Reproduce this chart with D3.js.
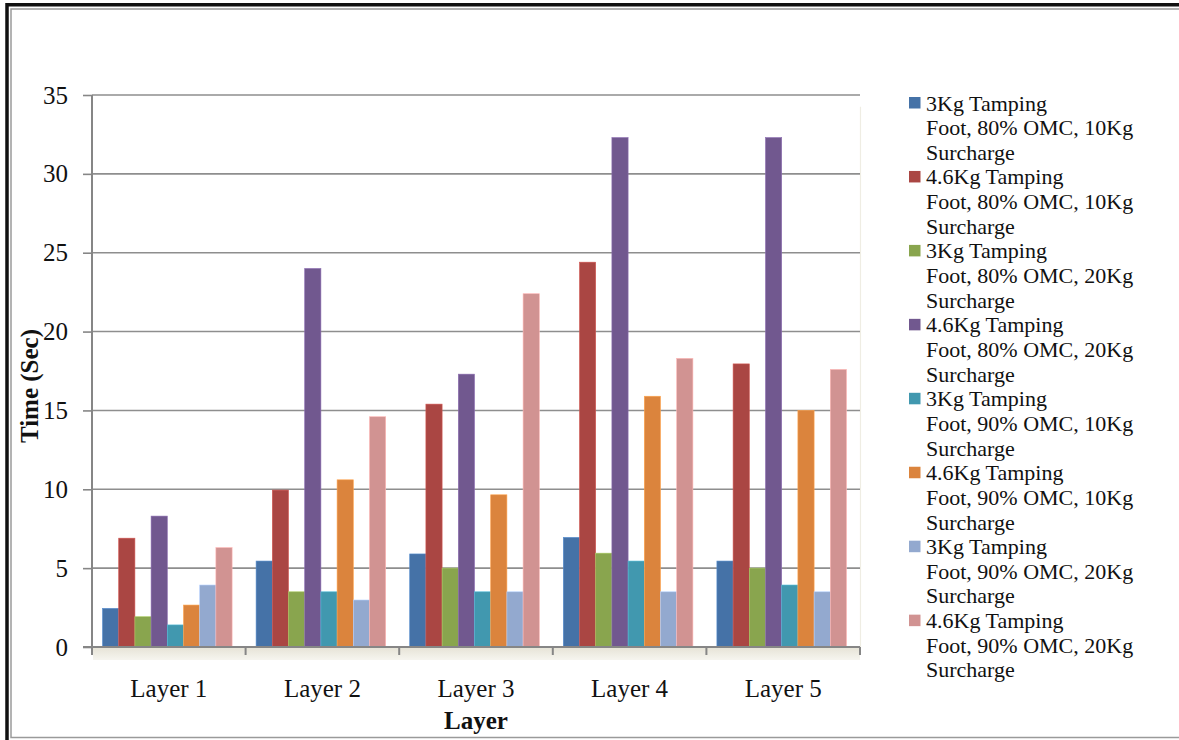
<!DOCTYPE html>
<html>
<head>
<meta charset="utf-8">
<script src="https://cdn.jsdelivr.net/npm/d3@7"></script>
<style>
  html, body { margin: 0; padding: 0; background: #fff; }
  svg { display: block; font-family: "Liberation Serif", "Times New Roman", serif; }
</style>
</head>
<body>
<svg id="chart" width="1179" height="740"></svg>
<script>
// Categories on the x axis
const layers = ["Layer 1", "Layer 2", "Layer 3", "Layer 4", "Layer 5"];

// Series names (test configurations)
const seriesNames = [
  "3Kg Tamping Foot, 80% OMC, 10Kg Surcharge",
  "4.6Kg Tamping Foot, 80% OMC, 10Kg Surcharge",
  "3Kg Tamping Foot, 80% OMC, 20Kg Surcharge",
  "4.6Kg Tamping Foot, 80% OMC, 20Kg Surcharge",
  "3Kg Tamping Foot, 90% OMC, 10Kg Surcharge",
  "4.6Kg Tamping Foot, 90% OMC, 10Kg Surcharge",
  "3Kg Tamping Foot, 90% OMC, 20Kg Surcharge",
  "4.6Kg Tamping Foot, 90% OMC, 20Kg Surcharge"
];

// Time (Sec) per layer, one array per series
const s3kg80_10  = [2.45, 5.45, 5.9, 6.95, 5.45];
const s46kg80_10 = [6.9, 9.95, 15.4, 24.4, 17.95];
const s3kg80_20  = [1.92, 3.5, 5.0, 5.95, 5.0];
const s46kg80_20 = [8.3, 24.0, 17.3, 32.3, 32.3];
const s3kg90_10  = [1.4, 3.5, 3.5, 5.45, 3.93];
const s46kg90_10 = [2.66, 10.6, 9.65, 15.9, 15.0];
const s3kg90_20  = [3.93, 2.98, 3.5, 3.5, 3.5];
const s46kg90_20 = [6.3, 14.6, 22.4, 18.3, 17.6];

const seriesValues = [s3kg80_10, s46kg80_10, s3kg80_20, s46kg80_20,
                      s3kg90_10, s46kg90_10, s3kg90_20, s46kg90_20];

// Y axis ticks
const yTicks = [0, 5, 10, 15, 20, 25, 30, 35];

const colors = ["#4572A7", "#AA4643", "#89A54E", "#71588F",
                "#4198AF", "#DB843D", "#93A9CF", "#D19392"];

const svg = d3.select("#chart");

// Plot area
const plotL = 92, plotR = 860, plotT = 95, plotB = 647;

const y = d3.scaleLinear().domain([0, 35]).range([plotB, plotT]);
const x0 = d3.scaleBand().domain(layers).range([plotL, plotR]).padding(0);
const x1 = d3.scaleBand().domain(d3.range(seriesNames.length))
  .range([10.5, 10.5 + 16.2 * seriesNames.length]).padding(0);

// Outer frame
svg.append("path")
  .attr("d", "M7,740 V4.8 H1179")
  .attr("fill", "none").attr("stroke", "#111").attr("stroke-width", 3.5);
svg.append("path")
  .attr("d", "M1179,9 H11 V737.5 H1179")
  .attr("fill", "none").attr("stroke", "#9a9a9a").attr("stroke-width", 1.5);

// Floor below the plot
const defs = svg.append("defs");
const fg = defs.append("linearGradient").attr("id", "floor")
  .attr("x1", 0).attr("y1", 0).attr("x2", 0).attr("y2", 1);
fg.append("stop").attr("offset", 0).attr("stop-color", "#e6e3d6");
fg.append("stop").attr("offset", 1).attr("stop-color", "#f6f5ef");
svg.append("rect")
  .attr("x", plotL + 1).attr("y", plotB).attr("width", plotR - plotL - 1).attr("height", 13)
  .attr("fill", "url(#floor)");

// Back wall right edge
svg.append("line")
  .attr("x1", plotR + 0.5).attr("x2", plotR + 0.5)
  .attr("y1", y(34.25)).attr("y2", plotB)
  .attr("stroke", "#efede3").attr("stroke-width", 1.2);

// Gridlines
svg.append("g").selectAll("line")
  .data(yTicks.filter(d => d > 0))
  .join("line")
  .attr("x1", plotL).attr("x2", plotR)
  .attr("y1", d => y(d)).attr("y2", d => y(d))
  .attr("stroke", "#8e8e8e").attr("stroke-width", 1.6);

// Bars
const groups = svg.append("g").selectAll("g")
  .data(layers)
  .join("g")
  .attr("transform", d => `translate(${x0(d)},0)`);

groups.selectAll("rect")
  .data((d, i) => seriesValues.map((vals, s) => ({ s, v: vals[i] })))
  .join("rect")
  .attr("x", d => x1(d.s))
  .attr("width", x1.bandwidth())
  .attr("y", d => y(d.v))
  .attr("height", d => y(0) - y(d.v))
  .attr("fill", d => colors[d.s])
  .attr("stroke", d => d3.color(colors[d.s]).brighter(0.6))
  .attr("stroke-width", 0.6);

// Y axis
const yAxis = svg.append("g")
  .attr("transform", `translate(${plotL},0)`)
  .call(d3.axisLeft(y).tickValues(yTicks).tickSize(9).tickPadding(15).tickFormat(d3.format("d")));
yAxis.select(".domain").attr("stroke", "#868686").attr("stroke-width", 2)
  .attr("d", `M0,${plotT}V${plotB + 7}`);
yAxis.selectAll(".tick line").attr("stroke", "#868686").attr("stroke-width", 1.6);
yAxis.selectAll(".tick text")
  .attr("font-family", "Liberation Serif").attr("font-size", 25).attr("fill", "#111");

// X axis line and category boundary ticks
svg.append("line")
  .attr("x1", plotL - 9).attr("x2", plotR)
  .attr("y1", plotB).attr("y2", plotB)
  .attr("stroke", "#868686").attr("stroke-width", 2);
const bounds = layers.map(d => x0(d)).concat([x0(layers[layers.length - 1]) + x0.bandwidth()]);
svg.append("g").selectAll("line")
  .data(bounds)
  .join("line")
  .attr("x1", d => d).attr("x2", d => d)
  .attr("y1", plotB).attr("y2", plotB + 8)
  .attr("stroke", "#868686").attr("stroke-width", 2);

// X category labels
const xAxis = svg.append("g")
  .attr("transform", `translate(0,${plotB})`)
  .call(d3.axisBottom(x0).tickSize(0).tickPadding(0));
xAxis.select(".domain").remove();
xAxis.selectAll(".tick text")
  .attr("y", 50).attr("dy", 0)
  .attr("font-family", "Liberation Serif").attr("font-size", 25).attr("fill", "#111");

// Axis titles
svg.append("text")
  .attr("x", (plotL + plotR) / 2).attr("y", 729)
  .attr("text-anchor", "middle")
  .attr("font-size", 25).attr("font-weight", "bold").attr("fill", "#111")
  .text("Layer");
svg.append("text")
  .attr("transform", "translate(38,386) rotate(-90)")
  .attr("text-anchor", "middle")
  .attr("font-size", 25).attr("font-weight", "bold").attr("fill", "#111")
  .text("Time (Sec)");

// Legend
const lineH = 24.65;
const legend = svg.append("g").attr("transform", "translate(909,110.5)");
seriesNames.forEach((name, i) => {
  const w = name.split(" ");
  const lines = [w.slice(0, 2).join(" "), w.slice(2, 6).join(" "), w.slice(6).join(" ")];
  const g = legend.append("g").attr("transform", `translate(0,${i * 3 * lineH})`);
  g.append("rect")
    .attr("x", 0).attr("y", -13.5).attr("width", 11.5).attr("height", 11.5)
    .attr("fill", colors[i]);
  lines.forEach((t, j) => {
    g.append("text")
      .attr("x", 17).attr("y", j * lineH)
      .attr("font-size", 22).attr("fill", "#111")
      .text(t);
  });
});
</script>
</body>
</html>
